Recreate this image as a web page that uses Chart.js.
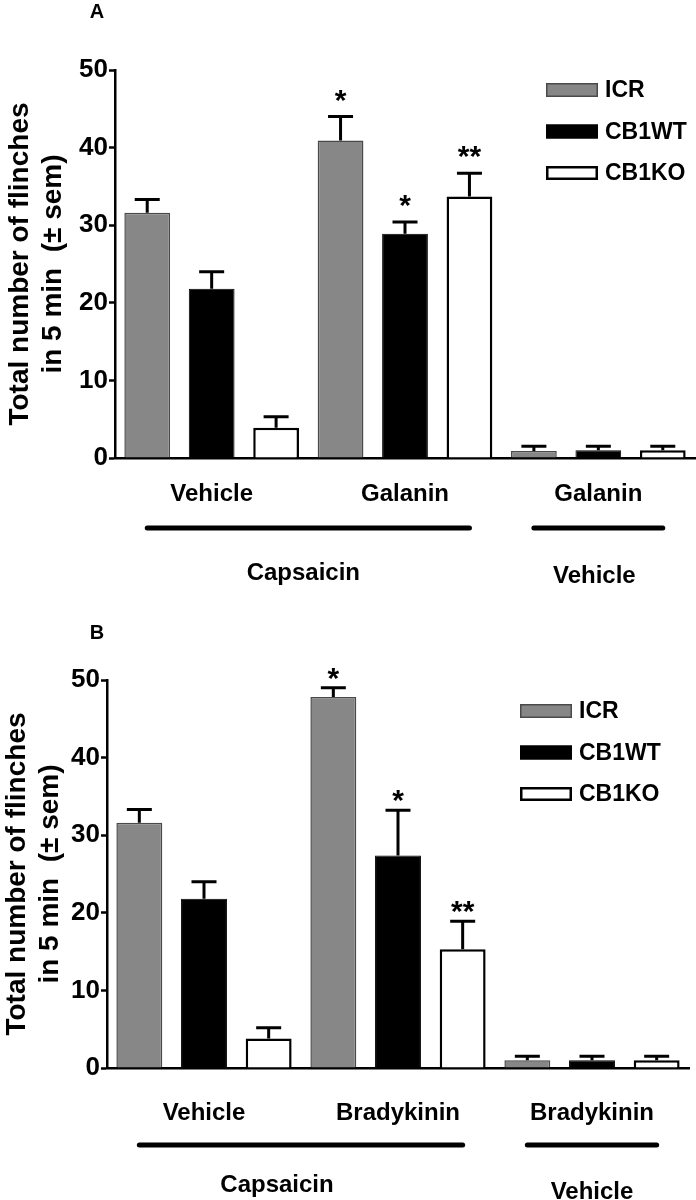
<!DOCTYPE html>
<html>
<head>
<meta charset="utf-8">
<script src="https://cdn.jsdelivr.net/npm/chart.js@4/dist/chart.umd.min.js"></script>
<style>
  body { margin: 0; background: #fff; }
  .panel { position: absolute; left: 0; width: 696px; height: 600px; }
</style>
</head>
<body>
<div class="panel" style="top:0"><canvas id="chartA" width="696" height="600"></canvas></div>
<div class="panel" style="top:600px"><canvas id="chartB" width="696" height="600"></canvas></div>
<script>
const FONT = "'Liberation Sans', Arial, sans-serif";

const genotypes = ["ICR", "CB1WT", "CB1KO"];
const yTicks = [0, 10, 20, 30, 40, 50];
const yTitle = ["Total number of flinches", "in 5 min  (\u00b1 sem)"];

// panel A - galanin
const treatA = ["Vehicle", "Galanin", "Galanin"];
const pretreatA = ["Capsaicin", "Vehicle"];
const pretreatSpanA = [[0, 1], [2, 2]];
const icrA = [31.6, 40.9, 0.9];
const icrSemA = [1.7, 3.1, 0.6];
const icrStarsA = ["", "*", ""];
const wtA = [21.8, 28.9, 1.0];
const wtSemA = [2.2, 1.5, 0.5];
const wtStarsA = ["", "*", ""];
const koA = [3.9, 33.7, 1.0];
const koSemA = [1.4, 3.0, 0.5];
const koStarsA = ["", "**", ""];

// panel B - bradykinin
const treatB = ["Vehicle", "Bradykinin", "Bradykinin"];
const pretreatB = ["Capsaicin", "Vehicle"];
const pretreatSpanB = [[0, 1], [2, 2]];
const icrB = [31.6, 47.8, 1.0];
const icrSemB = [1.7, 1.2, 0.5];
const icrStarsB = ["", "*", ""];
const wtB = [21.8, 27.4, 1.0];
const wtSemB = [2.2, 5.8, 0.5];
const wtStarsB = ["", "*", ""];
const koB = [3.8, 15.3, 1.0];
const koSemB = [1.4, 3.6, 0.5];
const koStarsB = ["", "**", ""];

Chart.defaults.font.family = FONT;
Chart.defaults.color = "#000";

// error bars, stars, legend, pretreatment bars and panel letter
const panelPlugin = {
    id: "panel",
    afterDatasetsDraw(chart, args, opts) {
        const ctx = chart.ctx;
        const y = chart.scales.y;
        ctx.save();
        chart.data.datasets.forEach((ds, i) => {
            chart.getDatasetMeta(i).data.forEach((bar, j) => {
                const top = y.getPixelForValue(ds.data[j]);
                const errTop = y.getPixelForValue(ds.data[j] + ds.sem[j]);
                ctx.strokeStyle = "#000";
                ctx.lineWidth = 3;
                ctx.beginPath();
                ctx.moveTo(bar.x, top);
                ctx.lineTo(bar.x, errTop);
                ctx.moveTo(bar.x - 12.5, errTop);
                ctx.lineTo(bar.x + 12.5, errTop);
                ctx.stroke();
                if (ds.stars[j]) {
                    ctx.fillStyle = "#000";
                    ctx.font = "bold 30px " + FONT;
                    ctx.textAlign = "center";
                    ctx.textBaseline = "alphabetic";
                    ctx.fillText(ds.stars[j], bar.x, errTop - opts.starGap);
                }
            });
        });
        ctx.restore();
    },
    afterDraw(chart, args, opts) {
        const ctx = chart.ctx;
        const area = chart.chartArea;
        const sets = chart.data.datasets;
        ctx.save();

        // legend
        sets.forEach((ds, i) => {
            const top = area.top + opts.legendTop + i * opts.legendStep;
            const bw = ds.borderWidth;
            ctx.fillStyle = ds.backgroundColor;
            ctx.fillRect(opts.legendLeft, top, 52, 14);
            ctx.strokeStyle = ds.borderColor;
            ctx.lineWidth = bw;
            ctx.strokeRect(opts.legendLeft + bw / 2, top + bw / 2, 52 - bw, 14 - bw);
            ctx.fillStyle = "#000";
            ctx.font = "bold 23px " + FONT;
            ctx.textAlign = "left";
            ctx.textBaseline = "middle";
            ctx.fillText(ds.label, opts.legendLeft + 59, top + 8);
        });

        // pretreatment underline + label
        const first = chart.getDatasetMeta(0).data;
        const last = chart.getDatasetMeta(sets.length - 1).data;
        opts.groups.forEach((name, k) => {
            const x0 = first[opts.spans[k][0]].x;
            const x1 = last[opts.spans[k][1]].x;
            const ly = area.bottom + opts.lineGap;
            ctx.strokeStyle = "#000";
            ctx.lineWidth = 5;
            ctx.lineCap = "round";
            ctx.beginPath();
            ctx.moveTo(x0, ly);
            ctx.lineTo(x1, ly);
            ctx.stroke();
            ctx.fillStyle = "#000";
            ctx.font = "bold 24px " + FONT;
            ctx.textAlign = "center";
            ctx.textBaseline = "middle";
            ctx.fillText(name, (x0 + x1) / 2 + opts.labelShift[k], area.bottom + opts.labelGap[k]);
        });

        ctx.font = "bold 20px " + FONT;
        ctx.textAlign = "center";
        ctx.textBaseline = "middle";
        ctx.fillText(opts.letter, 97, opts.letterY);
        ctx.restore();
    }
};

function makeChart(id, labels, series, p) {
    const fills = ["#878787", "#000000", "#ffffff"];
    const borders = ["#4a4a4a", "#000000", "#000000"];
    const widths = [1.5, 1, 2.5];
    return new Chart(document.getElementById(id), {
        type: "bar",
        data: {
            labels: labels,
            datasets: series.map((s, i) => ({
                label: genotypes[i],
                data: s.values,
                sem: s.sem,
                stars: s.stars,
                backgroundColor: fills[i],
                borderColor: borders[i],
                borderWidth: widths[i],
                categoryPercentage: 1,
                barPercentage: 0.71
            }))
        },
        plugins: [panelPlugin],
        options: {
            responsive: false,
            animation: false,
            layout: { padding: { top: p.top, right: p.right, left: 0, bottom: 0 } },
            plugins: {
                legend: { display: false },
                tooltip: { enabled: false },
                panel: p.panel
            },
            scales: {
                x: {
                    grid: { display: false, drawTicks: false },
                    border: { display: true, color: "#000", width: 2.5 },
                    ticks: { color: "#000", font: { size: 24, weight: "bold" }, padding: p.labelPad },
                    afterFit: s => { s.height = p.xHeight; }
                },
                y: {
                    min: yTicks[0],
                    max: yTicks[yTicks.length - 1],
                    afterBuildTicks: s => { s.ticks = yTicks.map(v => ({ value: v })); },
                    grid: { drawOnChartArea: false, tickLength: 6, tickWidth: 2.5, tickColor: "#000" },
                    border: { color: "#000", width: 2.5 },
                    ticks: { color: "#000", font: { size: 26, weight: "bold" }, padding: 1 },
                    title: {
                        display: true,
                        text: yTitle,
                        color: "#000",
                        font: { size: 28, weight: "bold", lineHeight: 1.2 },
                        padding: { top: p.titlePad, bottom: 0 }
                    },
                    afterFit: s => { s.width = p.left; }
                }
            }
        }
    });
}

makeChart("chartA", treatA, [
    { values: icrA, sem: icrSemA, stars: icrStarsA },
    { values: wtA, sem: wtSemA, stars: wtStarsA },
    { values: koA, sem: koSemA, stars: koStarsA }
], {
    top: 70, right: 1, left: 115, xHeight: 142, labelPad: 22, titlePad: 3,
    panel: {
        letter: "A", letterY: 12, starGap: 7,
        legendLeft: 546, legendTop: 13, legendStep: 41.5,
        groups: pretreatA, spans: pretreatSpanA,
        lineGap: 70, labelGap: [115, 118], labelShift: [-5, -4]
    }
});

makeChart("chartB", treatB, [
    { values: icrB, sem: icrSemB, stars: icrStarsB },
    { values: wtB, sem: wtSemB, stars: wtStarsB },
    { values: koB, sem: koSemB, stars: koStarsB }
], {
    top: 80, right: 7, left: 107, xHeight: 132, labelPad: 31, titlePad: 0,
    panel: {
        letter: "B", letterY: 33, starGap: 0,
        legendLeft: 520, legendTop: 24, legendStep: 41.5,
        groups: pretreatB, spans: pretreatSpanB,
        lineGap: 77, labelGap: [117, 124], labelShift: [-24, 0]
    }
});
</script>
</body>
</html>
